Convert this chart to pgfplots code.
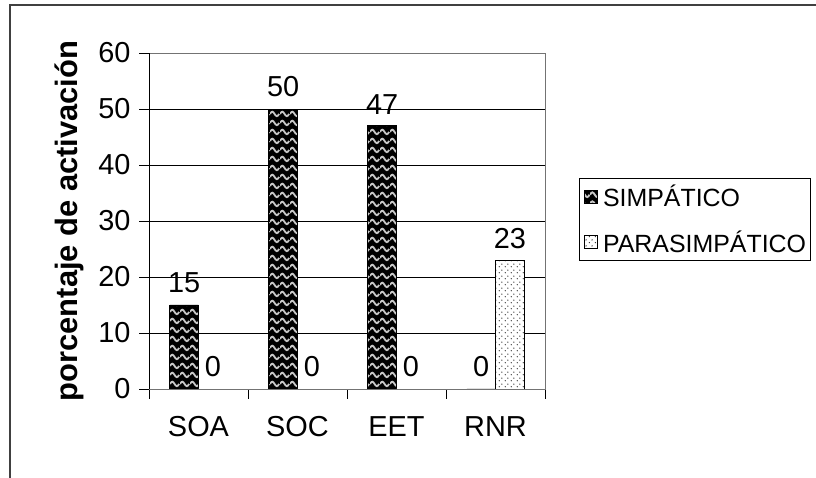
\documentclass[border=0pt]{standalone}
\usepackage{pgfplots}
\pgfplotsset{compat=1.18}
\usepackage{fontspec}
\setmainfont{Liberation Sans}
\usetikzlibrary{patterns,patterns.meta}
\tikzdeclarepattern{
  name=waves,
  type=uncolored,
  bounding box={(0,0) and (10bp,9bp)},
  tile size={(10bp,9bp)},
  code={
    \draw[line width=2bp] (0,4.5bp) sin (2.5bp,7bp) cos (5bp,4.5bp) sin (7.5bp,2bp) cos (10bp,4.5bp);
  }
}
\tikzdeclarepattern{
  name=sparsedots,
  type=uncolored,
  bounding box={(0,0) and (6bp,6bp)},
  tile size={(6bp,6bp)},
  code={
    \fill (1.5bp,1.5bp) circle (0.75bp);
    \fill (4.5bp,4.5bp) circle (0.75bp);
  }
}
\begin{document}
\begin{tikzpicture}
\useasboundingbox (0,0) rectangle (816bp,478bp);
\draw[line width=1.5bp, black!75] (10bp,0) -- (10bp,473bp) -- (816bp,473bp);
\begin{axis}[
  at={(149bp,89bp)}, anchor=south west,
  scale only axis, width=396bp, height=336bp,
  xmin=-0.5, xmax=3.5, ymin=0, ymax=60,
  ybar=0pt, bar width=0.29,
  ytick={0,10,...,60},
  xtick={-0.5,0.5,1.5,2.5,3.5},
  xticklabels={},
  extra x ticks={0,1,2,3},
  extra x tick labels={SOA,SOC,EET,RNR},
  extra x tick style={major tick length=0pt, grid=none,
    xticklabel style={yshift=-24bp}},
  tick pos=left,
  tick align=outside,
  major tick length=10bp,
  tick style={black, line width=0.8bp},
  axis line style={draw=black!55, line width=0.8bp},
  ymajorgrids,
  major grid style={black, line width=0.8bp},
  /pgf/number format/assume math mode=true,
  ticklabel style={font=\fontsize{29}{33}\selectfont},
  yticklabel style={xshift=-5bp},
  ylabel={porcentaje de activación},
  ylabel style={font=\fontsize{31}{35}\selectfont\bfseries, at={(axis description cs:-0.202,0.5)}, anchor=center},
  nodes near coords,
  every node near coord/.append style={font=\fontsize{29}{33}\selectfont, yshift=8bp, black},
  legend style={at={(1.085,0.628)}, anchor=north west, draw=black, line width=0.8bp,
    font=\fontsize{25}{29}\selectfont, row sep=18bp, inner xsep=2bp, inner ysep=5bp},
  legend cell align=left,
  legend image code/.code={%
    \pgfpathmoveto{\pgfqpoint{0bp}{0bp}}\pgfpathlineto{\pgfqpoint{20bp}{0bp}}\pgfusepath{}%
    \draw[#1, line width=0.5bp] (3bp,-6.5bp) rectangle (16bp,6.5bp);},
]
\addplot[draw=black, line width=0.8bp, fill=black,
  postaction={pattern=waves, pattern color=black!22}]
  coordinates {(0,15) (1,50) (2,47) (3,0)};
\addlegendentry{SIMPÁTICO}
\addplot[draw=black, line width=0.8bp, fill=white,
  postaction={pattern=sparsedots, pattern color=black!85}]
  coordinates {(0,0) (1,0) (2,0) (3,23)};
\addlegendentry{PARASIMPÁTICO}
\draw[black, line width=0.9bp] (rel axis cs:0,1) -- (rel axis cs:0,0) -- (rel axis cs:1,0);
\end{axis}
\end{tikzpicture}
\end{document}
